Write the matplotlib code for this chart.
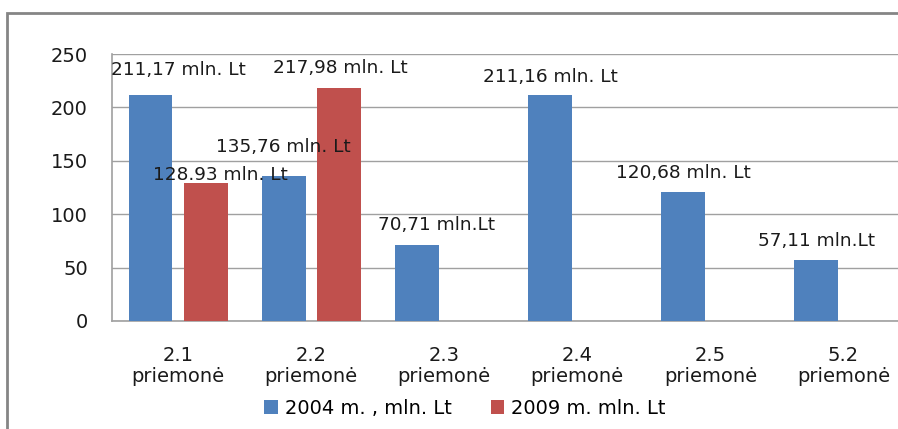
import matplotlib
matplotlib.use("Agg")
import matplotlib.pyplot as plt
import numpy as np
from matplotlib.patches import Rectangle

categories = ["2.1\npriemonė", "2.2\npriemonė", "2.3\npriemonė",
              "2.4\npriemonė", "2.5\npriemonė", "5.2\npriemonė"]
series_2004 = [211.17, 135.76, 70.71, 211.16, 120.68, 57.11]
series_2009 = [128.93, 217.98, np.nan, np.nan, np.nan, np.nan]
legend_labels = ["2004 m. , mln. Lt", "2009 m. mln. Lt"]

labels_2004 = ["211,17 mln. Lt", "135,76 mln. Lt", "70,71 mln.Lt",
               "211,16 mln. Lt", "120,68 mln. Lt", "57,11 mln.Lt"]
labels_2009 = ["128.93 mln. Lt", "217,98 mln. Lt", None, None, None, None]

# label placement (layout only): offsets from category centre / value
lab04_dx = [0.0, -0.21, -0.06, -0.20, -0.20, -0.20]
lab04_dy = [24, 27, 19, 17, 18, 18]
lab09_dx = [0.32, 0.22]
lab09_dy = [8, 19]

blue = "#4F81BD"
red = "#C0504D"
plt.rcParams['font.family'] = ['DejaVu Sans']

fig = plt.figure(figsize=(8.98, 4.29), dpi=100)
W, H = 898, 429
ax = fig.add_axes([111.5 / W, (H - 321) / H, (910 - 111.5) / W, (321 - 54) / H])

x = np.arange(len(categories))
bw = 0.33
off = 0.207
ax.bar(x - off, series_2004, bw, color=blue, label=legend_labels[0], zorder=3)
ax.bar(x + off, series_2009, bw, color=red, label=legend_labels[1], zorder=3)

fs = 13.3
for i, t in enumerate(labels_2004):
    ax.text(i + lab04_dx[i], series_2004[i] + lab04_dy[i], t, ha="center",
            va="center", fontsize=fs, color="#1a1a1a", zorder=5)
for i, t in enumerate(labels_2009):
    if t is None:
        continue
    ax.text(i + lab09_dx[i], series_2009[i] + lab09_dy[i], t, ha="center",
            va="center", fontsize=fs, color="#1a1a1a", zorder=5)

ax.set_xlim(-0.5, len(categories) - 0.5)
ax.set_ylim(0, 250)
ax.set_yticks([0, 50, 100, 150, 200, 250])
ax.set_xticks(x)
ax.set_xticklabels(categories, fontsize=14, color="#1a1a1a", linespacing=1.1)
ax.tick_params(axis="y", length=0, pad=17, labelsize=14, labelcolor="#1a1a1a")
ax.tick_params(axis="x", length=0, pad=18)
ax.grid(axis="y", color="#a0a0a0", linewidth=1, zorder=0)
for s in ["top", "right"]:
    ax.spines[s].set_visible(False)
for s in ["left", "bottom"]:
    ax.spines[s].set_color("#a0a0a0")
    ax.spines[s].set_linewidth(1.2)

leg = fig.legend(loc="center", bbox_to_anchor=(465 / W, (H - 408) / H), ncol=2,
                 frameon=False, fontsize=14, handlelength=0.7, handleheight=0.7,
                 handletextpad=0.35, columnspacing=2.0)

# outer chart frame
fig.add_artist(Rectangle((7 / W, -0.05), 1.2, (H - 13) / H + 0.05,
                         transform=fig.transFigure, fill=False,
                         edgecolor="#858585", linewidth=2, clip_on=False))

fig.savefig("out.png", dpi=100)
